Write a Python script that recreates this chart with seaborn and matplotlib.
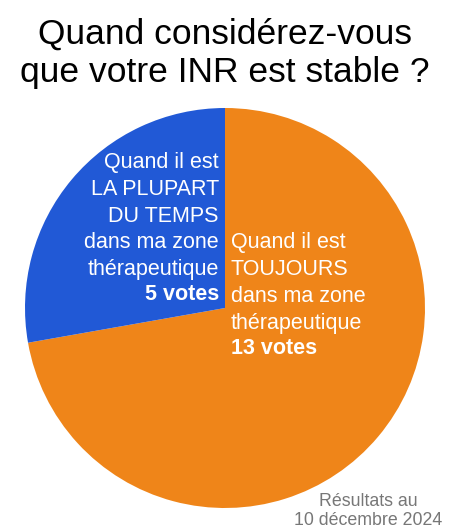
import matplotlib
matplotlib.use("Agg")
import matplotlib.pyplot as plt
import seaborn as sns

title = "Quand considérez-vous\nque votre INR est stable ?"
labels = ["Quand il est\nTOUJOURS\ndans ma zone\nthérapeutique",
          "Quand il est\nLA PLUPART\nDU TEMPS\ndans ma zone\nthérapeutique"]
votes = [13, 5]
colors = ["#EF8519", "#2159D6"]
note = "Résultats au\n10 décembre 2024"

sns.set_theme(style="white")
plt.rcParams['font.family'] = ['Liberation Sans', 'DejaVu Sans']

W, H = 449, 532
fig = plt.figure(figsize=(W / 100, H / 100), dpi=100)
fig.patch.set_facecolor("white")

# pie centre (225, 308) px, radius 200 px
cx, cy, r = 225, 308, 200
ax = fig.add_axes([(cx - r) / W, (H - cy - r) / H, 2 * r / W, 2 * r / H])
ax.pie(votes, colors=colors, startangle=90, counterclock=False, radius=1,
       wedgeprops=dict(linewidth=0))
ax.set_xlim(-1, 1)
ax.set_ylim(-1, 1)
ax.set_aspect("auto")
ax.axis("off")


def px(x, y):
    return x / W, 1 - y / H


fig.text(*px(225, 53), title, ha="center", va="center", fontsize=25.5,
         color="black", linespacing=1.2)

fs = 15.5
# blue label (right aligned)
fig.text(*px(219, 216), labels[1], ha="right", va="center", fontsize=fs,
         color="white", linespacing=1.36)
fig.text(*px(219, 295), f"{votes[1]} votes", ha="right", va="center",
         fontsize=fs, color="white", fontweight="bold")

# orange label (left aligned)
fig.text(*px(231, 283), labels[0], ha="left", va="center", fontsize=fs,
         color="white", linespacing=1.36)
fig.text(*px(231, 348), f"{votes[0]} votes", ha="left", va="center",
         fontsize=fs, color="white", fontweight="bold")

fig.text(*px(442, 511), note, ha="right", va="center", fontsize=12.8,
         color="#777777", linespacing=1.22, multialignment="center")

fig.savefig("out.png", dpi=100, facecolor="white")
